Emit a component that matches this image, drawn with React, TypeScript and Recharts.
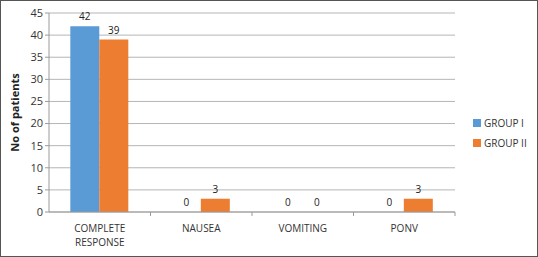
import React from 'react';
import {
  BarChart,
  Bar,
  XAxis,
  YAxis,
  CartesianGrid,
  LabelList,
  Label,
  Rectangle,
} from 'recharts';

const categories = ['COMPLETE RESPONSE', 'NAUSEA', 'VOMITING', 'PONV'];
const groupI = [42, 0, 0, 0];
const groupII = [39, 3, 0, 3];
const yTicks = [0, 5, 10, 15, 20, 25, 30, 35, 40, 45];
const seriesNames = ['GROUP I', 'GROUP II'];
const seriesColors = ['#5b9bd5', '#ed7d31'];

const data = categories.map((name, i) => ({
  name,
  g1: groupI[i],
  g2: groupII[i],
}));

const W = 538;
const H = 257;
const margin = { top: 13, right: 83, bottom: 45, left: 49 };
const xAxisHeight = 30;
const band = (W - margin.left - margin.right) / categories.length;
const font = '"Open Sans", "Liberation Sans", sans-serif';

const XTick = (props: any) => {
  const { x, y, payload } = props;
  const words = String(payload.value).split(' ');
  return (
    <g>
      <line x1={x + band / 2} x2={x + band / 2} y1={y - 8} y2={y - 4} stroke="#9a9a9a" />
      <text textAnchor="middle" fontSize={10} fill="#333" fontFamily={font}>
        {words.map((w, i) => (
          <tspan key={i} x={x} y={y + 12 + i * 14}>
            {w}
          </tspan>
        ))}
      </text>
    </g>
  );
};

const BarValue = (props: any) => {
  const { x, y, width, height, value } = props;
  const top = Math.min(y, y + height);
  const ty = value === 0 ? y + height : top;
  return (
    <text x={x + width / 2} y={ty - 6} textAnchor="middle" fontSize={10} fill="#222" fontFamily={font}>
      {value}
    </text>
  );
};

const BarShape = (props: any) => {
  if (!props.value) return <g />;
  return <Rectangle {...props} />;
};

export default function App() {
  return (
    <div
      style={{
        position: 'absolute',
        left: 0,
        top: 0,
        width: W,
        height: H,
        boxSizing: 'border-box',
        border: '1px solid #555',
        background: '#fff',
      }}
    >
      <BarChart
        width={W - 2}
        height={H - 2}
        data={data}
        margin={{ top: margin.top - 1, right: margin.right - 1, bottom: margin.bottom - 1 - xAxisHeight, left: 0 }}
        barCategoryGap="21%"
        barGap={0}
      >
        <CartesianGrid vertical={false} stroke="#b5b5b5" />
        <XAxis
          dataKey="name"
          height={xAxisHeight}
          tick={<XTick />}
          tickLine={false}
          axisLine={{ stroke: '#9a9a9a' }}
          interval={0}
        />
        <YAxis
          domain={[0, 45]}
          ticks={yTicks}
          interval={0}
          width={margin.left - 1}
          tick={{ fontSize: 11, fill: '#333', fontFamily: font }}
          tickLine={{ stroke: '#9a9a9a' }}
          tickSize={4}
          tickMargin={2}
          axisLine={{ stroke: '#9a9a9a' }}
        >
          <Label
            value="No of patients"
            angle={-90}
            position="insideLeft"
            offset={14}
            style={{ textAnchor: 'middle', fontSize: 11, fontWeight: 'bold', fill: '#222', fontFamily: font }}
          />
        </YAxis>
        <Bar dataKey="g1" name={seriesNames[0]} fill={seriesColors[0]} minPointSize={1} shape={<BarShape />} isAnimationActive={false}>
          <LabelList dataKey="g1" content={<BarValue />} />
        </Bar>
        <Bar dataKey="g2" name={seriesNames[1]} fill={seriesColors[1]} minPointSize={1} shape={<BarShape />} isAnimationActive={false}>
          <LabelList dataKey="g2" content={<BarValue />} />
        </Bar>
      </BarChart>
      <div
        style={{
          position: 'absolute',
          left: 472,
          top: 112,
          fontFamily: font,
          fontSize: 10,
          color: '#333',
          lineHeight: '20px',
        }}
      >
        {seriesNames.map((n, i) => (
          <div key={n} style={{ display: 'flex', alignItems: 'center' }}>
            <span style={{ width: 8, height: 8, background: seriesColors[i], marginRight: 3, display: 'inline-block' }} />
            {n}
          </div>
        ))}
      </div>
    </div>
  );
}
